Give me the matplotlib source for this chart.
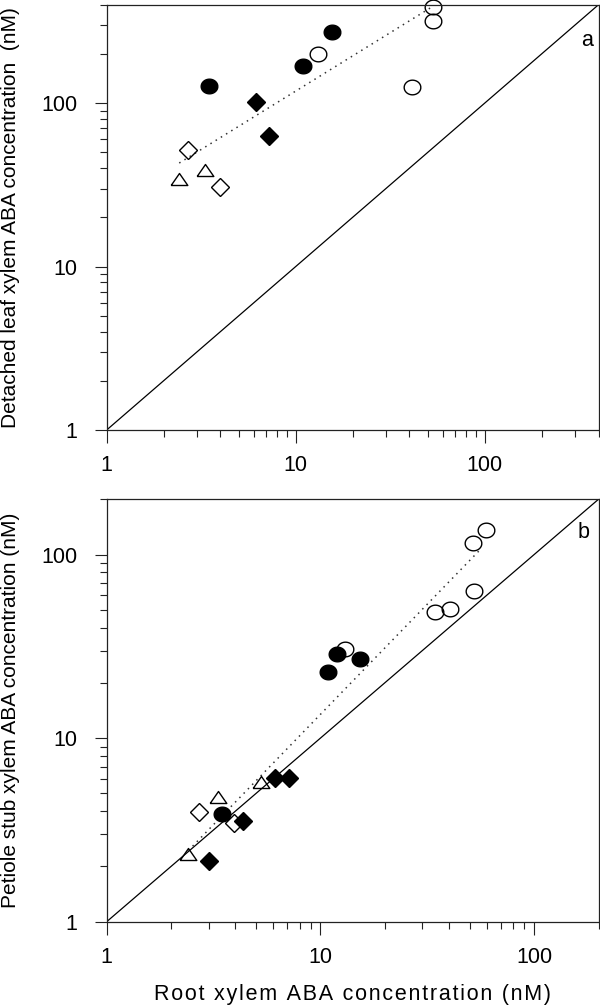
import numpy as np
import matplotlib
matplotlib.use("Agg")
from matplotlib import pyplot as plt
from matplotlib.ticker import LogLocator, NullFormatter

plt.rcParams['font.family'] = ['Liberation Sans', 'DejaVu Sans']

# Painel a: folha destacada vs raiz
a_cheio_circ_x = [3.46, 10.96, 15.5]
a_cheio_circ_y = [128, 168, 272]
a_vazio_circ_x = [13.05, 53, 53, 41.2]
a_vazio_circ_y = [201, 385, 319, 125]
a_cheio_losango_x = [6.14, 7.2]
a_cheio_losango_y = [101, 62.7]
a_vazio_losango_x = [2.69, 3.99]
a_vazio_losango_y = [51.7, 30.5]
a_triang_x = [2.42, 3.31]
a_triang_y = [34.5, 39]
a_ajuste_x = [2.42, 53]
a_ajuste_y = [43, 390]

# Painel b: coto do peciolo vs raiz
b_cheio_circ_x = [11.96, 15.4, 10.9, 3.46]
b_cheio_circ_y = [28.9, 27.1, 22.8, 3.86]
b_vazio_circ_x = [59.7, 52, 52.4, 40.5, 34.5, 13.0]
b_vazio_circ_y = [136, 115, 63, 50.8, 48.5, 30.6]
b_cheio_losango_x = [6.11, 7.16, 4.33, 3.02]
b_cheio_losango_y = [6.05, 6.05, 3.53, 2.15]
b_vazio_losango_x = [2.69, 3.95]
b_vazio_losango_y = [3.95, 3.45]
b_triang_x = [5.27, 3.30, 2.41]
b_triang_y = [5.8, 4.8, 2.35]
b_ajuste_x = [2.41, 55.1]
b_ajuste_y = [2.44, 104.5]

# marcadores (elipse levemente achatada e triangulo baixo)
t = np.linspace(0, 2 * np.pi, 41)
elipse = list(zip(np.cos(t), 0.88 * np.sin(t)))
triangulo = [(-1, -0.72), (1, -0.72), (0, 0.72), (-1, -0.72)]

fig = plt.figure(figsize=(6, 10.07), dpi=100)
ax_a = fig.add_axes([0.1778, 0.5730, 0.8197, 0.4223])
ax_b = fig.add_axes([0.1778, 0.0847, 0.8197, 0.4195])


def desenhar(ax, lim, dados, ajuste, letra, letra_pos):
    ax.set_xscale('log')
    ax.set_yscale('log')
    ax.set_xlim(1, lim)
    ax.set_ylim(1, lim)
    ax.plot([1, lim], [1, lim], color='black', lw=0.9, zorder=1)
    ax.plot(ajuste[0], ajuste[1], color='#333333', lw=1.1, linestyle=(0, (1, 3)), zorder=1)
    (cc_x, cc_y, vc_x, vc_y, cl_x, cl_y, vl_x, vl_y, tr_x, tr_y) = dados
    aberto = dict(mfc='none', mec='black', mew=1.0, linestyle='none', zorder=2, clip_on=False)
    cheio = dict(mfc='black', mec='black', mew=1.0, linestyle='none', zorder=3, clip_on=False)
    ax.plot(vc_x, vc_y, marker=elipse, ms=12, **aberto)
    ax.plot(vl_x, vl_y, marker='D', ms=9, **aberto)
    ax.plot(tr_x, tr_y, marker=triangulo, ms=12, **aberto)
    ax.plot(cc_x, cc_y, marker=elipse, ms=12, **cheio)
    ax.plot(cl_x, cl_y, marker='D', ms=9, **cheio)

    ax.set_xticks([1, 10, 100])
    ax.set_xticklabels(['1', '10', '100'])
    ax.set_yticks([1, 10, 100])
    ax.set_yticklabels(['1', '10', '100'])
    for eixo in (ax.xaxis, ax.yaxis):
        eixo.set_minor_locator(LogLocator(base=10, subs=np.arange(2, 10)))
        eixo.set_minor_formatter(NullFormatter())
    ax.tick_params(which='major', direction='out', length=9, width=0.8,
                   labelsize=15.5, color='#222222')
    ax.tick_params(which='minor', direction='out', length=5, width=0.8, color='#222222')
    ax.tick_params(axis='x', which='major', pad=9)
    ax.tick_params(axis='y', which='major', pad=12)
    for s in ax.spines.values():
        s.set_linewidth(0.9)
        s.set_color('#222222')
    ax.text(letra_pos[0], letra_pos[1], letra, transform=ax.transAxes,
            ha='center', va='center', fontsize=15.5)


desenhar(ax_a, 400,
         (a_cheio_circ_x, a_cheio_circ_y, a_vazio_circ_x, a_vazio_circ_y,
          a_cheio_losango_x, a_cheio_losango_y, a_vazio_losango_x, a_vazio_losango_y,
          a_triang_x, a_triang_y),
         (a_ajuste_x, a_ajuste_y), 'a', (0.977, 0.917))
desenhar(ax_b, 200,
         (b_cheio_circ_x, b_cheio_circ_y, b_vazio_circ_x, b_vazio_circ_y,
          b_cheio_losango_x, b_cheio_losango_y, b_vazio_losango_x, b_vazio_losango_y,
          b_triang_x, b_triang_y),
         (b_ajuste_x, b_ajuste_y), 'b', (0.9705, 0.921))

ax_a.set_ylabel('Detached leaf xylem ABA concentration  (nM)', fontsize=15)
ax_a.yaxis.set_label_coords(-0.176, 0.5)
ax_b.set_ylabel('Petiole stub xylem ABA concentration (nM)', fontsize=15)
ax_b.yaxis.set_label_coords(-0.176, 0.5)
# rotulo do eixo x com letras espacadas (espaco fino entre caracteres)
rotulo_x = 'Root xylem ABA concentration (nM)'
ax_b.set_xlabel('\u200a'.join(rotulo_x), fontsize=15.5)
ax_b.xaxis.set_label_coords(0.5, -0.148)

fig.savefig('out.png', dpi=100)
